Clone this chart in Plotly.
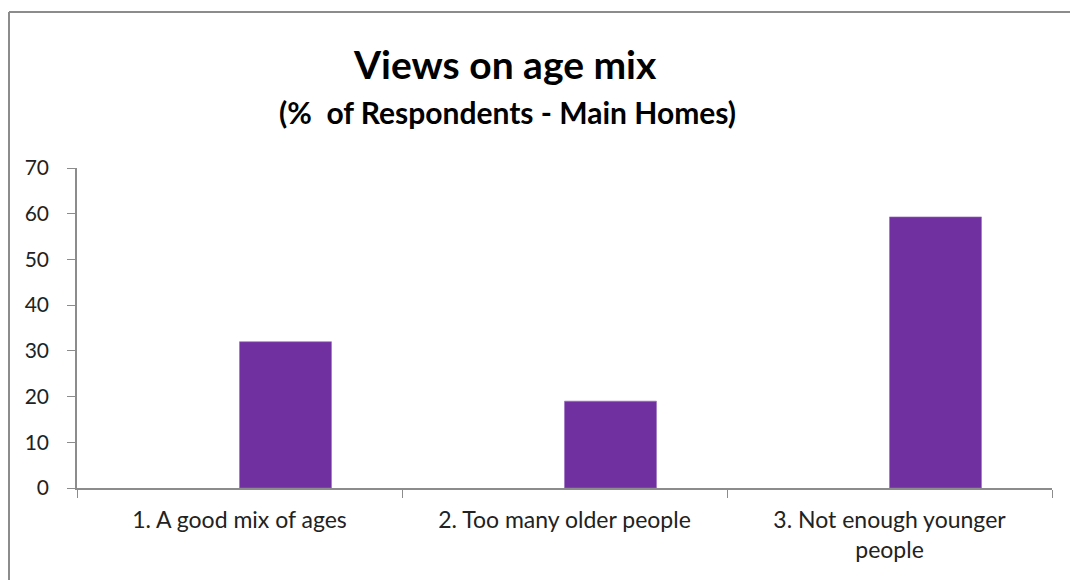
import plotly.graph_objects as go

categories = ["1. A good mix of ages", "2. Too many older people", "3. Not enough younger<br>people"]
values = [32, 19, 59.3]
empty_series = [None, None, None]

title_text = "<b>Views on age mix</b>"
subtitle_text = "<b>(%  of Respondents - Main Homes)</b>"

W, H = 1070, 580
L, R, T, B = 77, 18, 168, 92
PW, PH = W - L - R, H - T - B

def px_x(x):
    return (x - L) / PW

def px_y(y):
    return (H - B - y) / PH

fig = go.Figure()
fig.add_trace(go.Bar(x=categories, y=empty_series, marker_color="#7030A0", showlegend=False))
fig.add_trace(go.Bar(x=categories, y=values,
                     marker=dict(color="#7030A0", line=dict(color="#9A6CC0", width=0.6)),
                     showlegend=False))

fig.update_layout(
    width=W, height=H,
    margin=dict(l=L, r=R, t=T, b=B),
    paper_bgcolor="white", plot_bgcolor="white",
    barmode="group", bargap=0.434, bargroupgap=0,
    font=dict(family="Lato", color="#222222", size=20),
    xaxis=dict(type="category", showline=True, linecolor="#8C8C8C", linewidth=1.5,
               ticks="outside", tickson="boundaries", ticklen=8, tickcolor="#8C8C8C",
               ticklabelstandoff=11,
               tickfont=dict(size=23, family="Lato", color="#222222"), showgrid=False,
               range=[-0.5, 2.5]),
    yaxis=dict(range=[0, 70], dtick=10, showline=True, linecolor="#8C8C8C", linewidth=1.5,
               ticks="outside", ticklen=8, tickcolor="#8C8C8C", showgrid=False, zeroline=False,
               ticklabelstandoff=14,
               tickfont=dict(size=21, family="Lato", color="#222222")),
    shapes=[
        dict(type="line", xref="paper", yref="paper", x0=px_x(9), x1=px_x(W + 2),
             y0=px_y(12), y1=px_y(12), line=dict(color="#8C8C8C", width=2)),
        dict(type="line", xref="paper", yref="paper", x0=px_x(9), x1=px_x(9),
             y0=px_y(H + 2), y1=px_y(12), line=dict(color="#8C8C8C", width=2)),
    ],
    annotations=[
        dict(text=title_text, xref="paper", yref="paper", x=px_x(505), y=px_y(64),
             showarrow=False, font=dict(size=39, family="Lato", color="#000000"), yanchor="middle"),
        dict(text=subtitle_text, xref="paper", yref="paper", x=px_x(507), y=px_y(112),
             showarrow=False, font=dict(size=30, family="Lato", color="#000000"), yanchor="middle"),
    ],
)

fig.write_html("out.html", config={"displayModeBar": False},
               post_script="document.body.style.margin='0px';")
